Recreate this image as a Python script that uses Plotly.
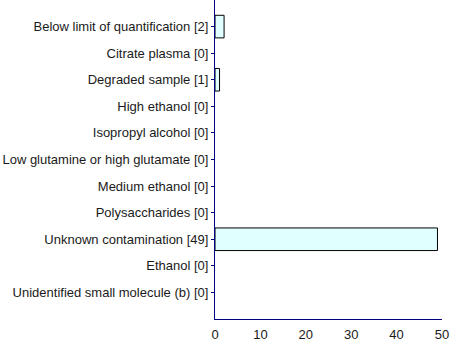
import plotly.graph_objects as go

# Sample flags and how many samples carry each one (top to bottom)
categories = [
    "Below limit of quantification",
    "Citrate plasma",
    "Degraded sample",
    "High ethanol",
    "Isopropyl alcohol",
    "Low glutamine or high glutamate",
    "Medium ethanol",
    "Polysaccharides",
    "Unknown contamination",
    "Ethanol",
    "Unidentified small molecule (b)",
]
counts = [2, 0, 1, 0, 0, 0, 0, 0, 49, 0, 0]
x_ticks = [0, 10, 20, 30, 40, 50]

labels = [f"{c} [{n}]" for c, n in zip(categories, counts)]
positions = list(range(len(labels)))

axis_color = "#000080"

# empty categories get no outline, so no stray stroke sits on the axis
outline_widths = [1 if n > 0 else 0 for n in counts]

fig = go.Figure(
    go.Bar(
        x=counts,
        y=positions,
        orientation="h",
        marker=dict(color="#e0ffff", line=dict(color="black", width=outline_widths)),
        width=0.85,
    )
)

fig.update_layout(
    width=450,
    height=342,
    margin=dict(l=215, r=8, t=0, b=18),
    plot_bgcolor="white",
    paper_bgcolor="white",
    font=dict(family="Liberation Sans, Arial, sans-serif", size=13, color="#1a1a1a"),
    showlegend=False,
)

fig.update_xaxes(
    range=[0, 50],
    tickvals=x_ticks,
    showgrid=False,
    zeroline=False,
    showline=True,
    linecolor=axis_color,
    linewidth=1,
    ticks="outside",
    ticklen=3,
    tickcolor="rgba(0,0,0,0)",
)

fig.update_yaxes(
    range=[11, -1],
    tickvals=positions,
    ticktext=labels,
    showgrid=False,
    zeroline=False,
    showline=True,
    linecolor=axis_color,
    linewidth=1,
    ticks="outside",
    ticklen=3,
    tickcolor=axis_color,
)

fig.write_html("out.html")
